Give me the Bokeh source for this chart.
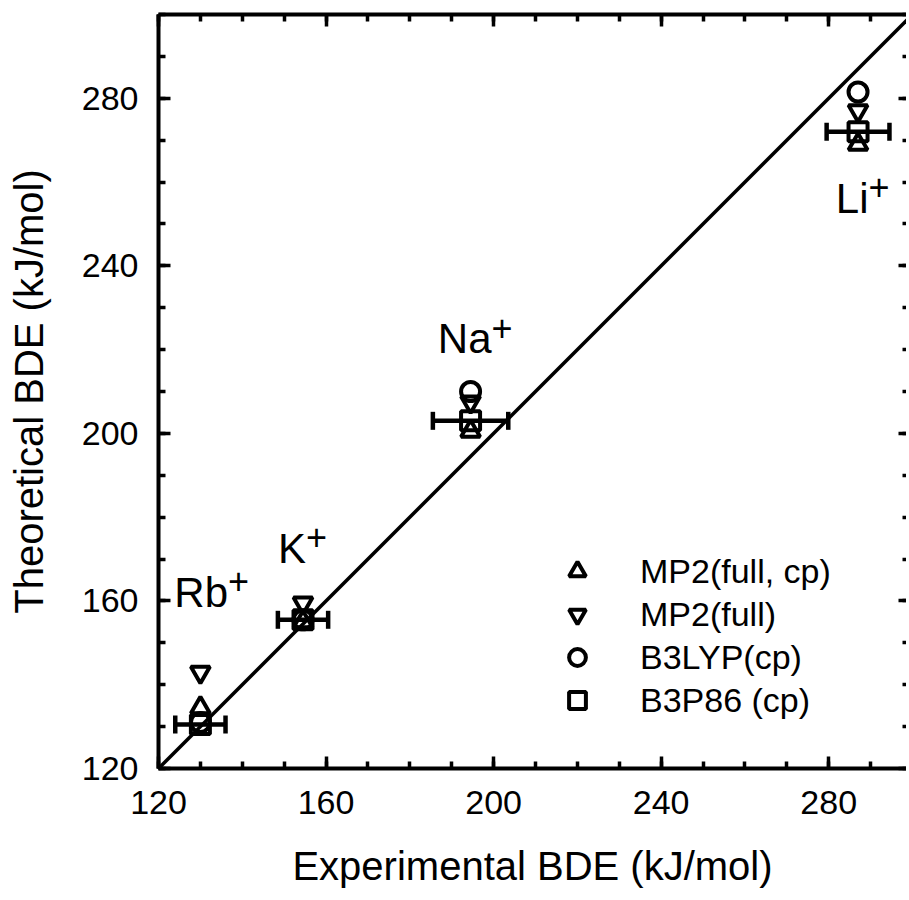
from bokeh.plotting import figure
from bokeh.models import (Range1d, LinearAxis, SingleIntervalTicker, Whisker, TeeHead,
                          ColumnDataSource, Slope, Legend, LegendItem)
from bokeh.embed import file_html
from bokeh.resources import INLINE
from bokeh.core.properties import value

# ---- data ----
ions = ["Li", "Na", "K", "Rb"]
exp_bde = [287.0, 194.5, 154.5, 130.0]
exp_err = [7.5, 9.0, 6.0, 6.0]
mp2_full_cp = [269.0, 200.5, 155.0, 134.5]
mp2_full = [277.0, 207.5, 159.5, 143.0]
b3lyp_cp = [281.5, 210.0, 155.5, 131.0]
b3p86_cp = [272.0, 203.0, 155.5, 130.5]
label_x = [289.5, 199.5, 155.2, 136.6]
label_y = [252.5, 219.0, 169.0, 158.5]
series_names = ["MP2(full, cp)", "MP2(full)", "B3LYP(cp)", "B3P86 (cp)"]
series_markers = ["triangle", "inverted_triangle", "circle", "square"]

FONT = "Liberation Sans"
FW, FH = 748, 754

p = figure(frame_width=FW, frame_height=FH,
           x_range=Range1d(120, 120 + FW * 180.0 / FH), y_range=Range1d(120, 300),
           output_backend="svg", toolbar_location=None,
           min_border_left=158, min_border_right=0, min_border_top=14, min_border_bottom=0,
           x_axis_label="Experimental BDE (kJ/mol)",
           y_axis_label="Theoretical BDE (kJ/mol)")
p.outline_line_color = None
p.grid.visible = False
p.background_fill_color = "white"


def style_axis(ax, show_labels, line=True, tin=12, tmin=7):
    ax.ticker = SingleIntervalTicker(interval=40, num_minor_ticks=4)
    ax.axis_line_width = 4
    ax.axis_line_color = "black" if line else None
    ax.major_tick_in = tin
    ax.major_tick_out = 0
    ax.minor_tick_in = tmin
    ax.minor_tick_out = 0
    ax.major_tick_line_width = 3.5
    ax.minor_tick_line_width = 3.5
    ax.major_label_text_font = FONT
    ax.axis_label_text_font = FONT
    ax.axis_label_text_font_style = "normal"
    ax.axis_label_text_font_size = "40px"
    ax.axis_label_text_color = "black"
    if show_labels:
        ax.major_label_text_font_size = "34px"
        ax.major_label_text_color = "black"
    else:
        ax.major_label_text_font_size = "0px"
        ax.major_label_text_color = None
        ax.major_label_standoff = 0
        ax.axis_label_standoff = 0


style_axis(p.xaxis[0], True)
style_axis(p.yaxis[0], True)
p.xaxis[0].major_label_standoff = 22
p.xaxis[0].axis_label_standoff = 27
p.yaxis[0].major_label_standoff = 20
p.yaxis[0].axis_label_standoff = 28

top_ax = LinearAxis()
style_axis(top_ax, False)
p.add_layout(top_ax, "above")
right_ax = LinearAxis()
style_axis(right_ax, False, line=False, tin=8, tmin=4)
p.add_layout(right_ax, "right")

# diagonal y = x
p.add_layout(Slope(gradient=1, y_intercept=0, line_color="black", line_width=3.5))

# horizontal error bars on experimental values
lower = [x - e for x, e in zip(exp_bde, exp_err)]
upper = [x + e for x, e in zip(exp_bde, exp_err)]
src = ColumnDataSource(dict(base=b3p86_cp, lower=lower, upper=upper))
wh = Whisker(base="base", lower="lower", upper="upper", dimension="width", source=src,
             line_width=4.5, line_color="black",
             upper_head=TeeHead(size=18, line_width=4.5, line_color="black"),
             lower_head=TeeHead(size=18, line_width=4.5, line_color="black"))
p.add_layout(wh)

items = []
for name, mk, ys in zip(series_names, series_markers,
                        [mp2_full_cp, mp2_full, b3lyp_cp, b3p86_cp]):
    r = p.scatter(exp_bde, ys, marker=mk, size=19, fill_color=None,
                  line_color="black", line_width=4)
    items.append(LegendItem(label=name, renderers=[r]))

legend = Legend(items=items, location=(398, 47), border_line_color=None,
                background_fill_alpha=0, padding=0, margin=0, spacing=1,
                glyph_width=42, glyph_height=42, label_standoff=42,
                label_text_font=FONT, label_text_font_size="34px",
                label_text_color="black")
p.add_layout(legend, "center")

# ion labels with superscript +
p.text(label_x, label_y, text=ions, text_align="right", text_baseline="alphabetic",
       y_offset=-15,
       text_font=value(FONT), text_font_size="42px", text_color="black")
p.text(label_x, label_y, text=["+"] * len(ions), text_align="left",
       text_baseline="alphabetic", y_offset=-26,
       text_font=value(FONT), text_font_size="36px", text_color="black")

open("out.html", "w").write(file_html(p, INLINE))
